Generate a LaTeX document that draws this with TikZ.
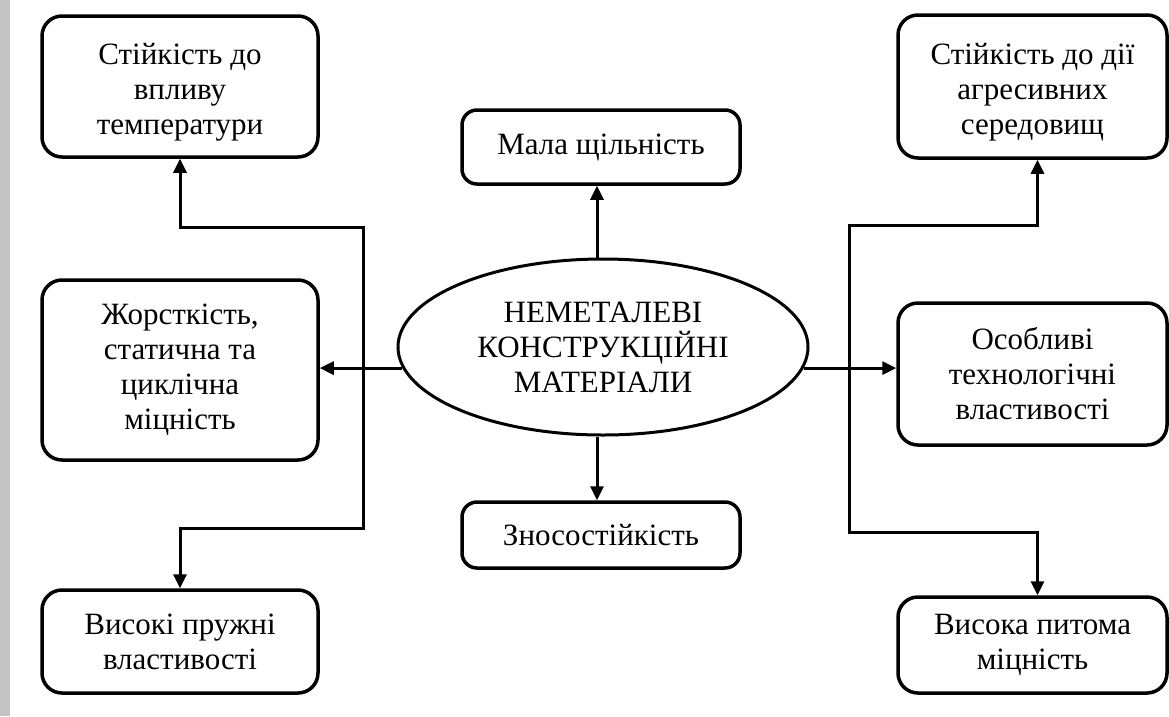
\documentclass[tikz,border=0pt]{standalone}
\usepackage{fontspec}
\setmainfont{Liberation Serif}
\usetikzlibrary{shapes.geometric,arrows.meta}
\definecolor{stripgray}{HTML}{C3C3C3}
\tikzset{
  box/.style={draw, line width=3.5pt, rounded corners=20pt, align=center,
    inner sep=0pt, font=\fontsize{31}{35}\selectfont},
  ell/.style={draw, ellipse, line width=3pt, align=center, inner sep=0pt,
    minimum width=410pt, minimum height=176pt, font=\fontsize{31}{35}\selectfont},
  arr/.style={line width=3pt, -{Triangle[length=14pt,width=13pt]}},
  arrs/.style={line width=3pt, {Triangle[length=14pt,width=13pt]}-{Triangle[length=14pt,width=13pt]}}
}
\newcommand{\topstrut}{\rule{0pt}{33pt}}
\begin{document}
\begin{tikzpicture}[x=1pt,y=-1pt]
\useasboundingbox (0,0) rectangle (1169,716);
\fill[stripgray] (0,0) rectangle (10,716);
% boxes
\node[box, minimum width=276pt, minimum height=141pt] (t1) at (180,86.5) {\topstrut Стійкість до\\впливу\\температури};
\node[box, minimum width=276pt, minimum height=180pt] (t2) at (180,370) {Жорсткість,\\статична та\\циклічна\\міцність};
\node[box, minimum width=276pt, minimum height=103pt] (t3) at (180,641.5) {Високі пружні\\властивості};
\node[box, rounded corners=15pt, minimum width=278pt, minimum height=74pt] (m1) at (601,147) {Мала щільність};
\node[box, rounded corners=15pt, minimum width=278pt, minimum height=66pt] (m2) at (601,535) {Зносостійкість};
\node[box, minimum width=269pt, minimum height=143pt] (r1) at (1032.5,86.5) {\topstrut Стійкість до дії\\агресивних\\середовищ};
\node[box, minimum width=269pt, minimum height=142pt] (r2) at (1032.5,374) {Особливі\\технологічні\\властивості};
\node[box, minimum width=269pt, minimum height=96pt] (r3) at (1032.5,645) {Висока питома\\міцність};
% centre
\node[ell] (e) at (603,347) {НЕМЕТАЛЕВІ\\КОНСТРУКЦІЙНІ\\МАТЕРІАЛИ};
% bus coordinates
\coordinate (lb1) at (363,227);
\coordinate (lb2) at (363,528);
\coordinate (rb1) at (849,225);
\coordinate (rb2) at (849,532);
% connectors
\draw[arr] ([xshift=-6pt]e.north) -- ([xshift=-6pt]e.north |- m1.south);
\draw[arr] ([xshift=-6pt]e.south) -- ([xshift=-6pt]e.south |- m2.north);
\draw[arr] (e.186) -- (e.186 -| t2.east);
\draw[arr] (e.354) -- (e.354 -| r2.west);
\draw[arrs] (t1.south) |- (lb1) -- (lb2) -| (t3.north);
\draw[arrs] ([xshift=5pt]r1.south) |- (rb1) -- (rb2) -| ([xshift=5pt]r3.north);
\end{tikzpicture}
\end{document}
